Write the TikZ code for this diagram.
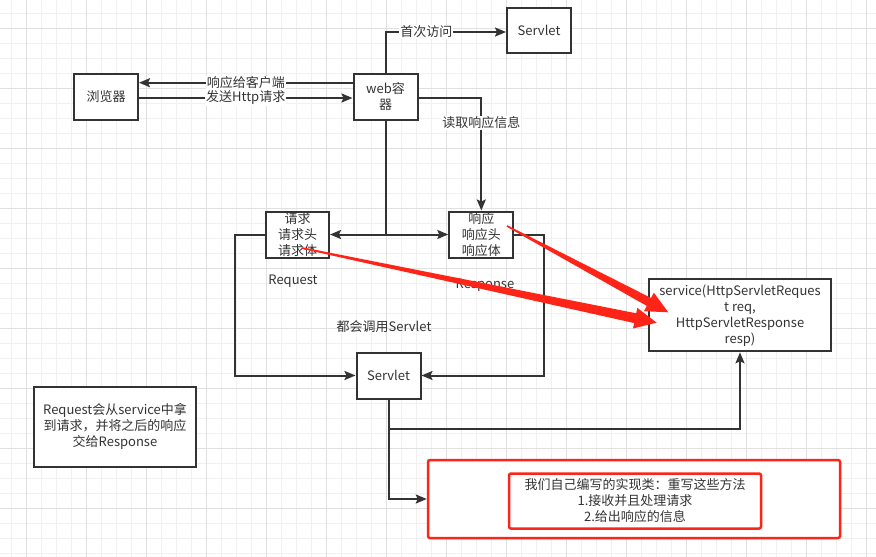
\documentclass[tikz,border=0pt]{standalone}
\usepackage{fontspec}
\setmainfont{Noto Sans CJK SC}
\usetikzlibrary{arrows.meta,calc}
\definecolor{ln}{HTML}{333333}
\definecolor{tx}{HTML}{333333}
\definecolor{rd}{HTML}{FF2418}
\definecolor{gmin}{HTML}{F0F0F0}
\definecolor{gmaj}{HTML}{E0E0E0}
\begin{document}
\begin{tikzpicture}[x=1pt,y=-1pt,
 box/.style={draw=ln,line width=2pt,fill=white,text=tx,font=\fontsize{13}{16}\selectfont,align=center,inner sep=0pt},
 redbox/.style={draw=rd,line width=2.5pt,fill=white,rounded corners=2pt,text=tx,font=\fontsize{13}{16}\selectfont,align=center,inner sep=0pt},
 conn/.style={draw=ln,line width=2pt,-{Stealth[length=11pt,width=9pt,inset=2pt]}},
 plain/.style={draw=ln,line width=2pt},
 lbl/.style={fill=white,text=tx,font=\fontsize{13}{14}\selectfont,inner sep=1pt},
 txt/.style={text=tx,font=\fontsize{13}{14}\selectfont,inner sep=0pt}]
\useasboundingbox (0,0) rectangle (876,557);
\fill[white] (0,0) rectangle (876,557);
% grid
\foreach \i in {0,...,57} {\pgfmathsetmacro\xx{11.7+15*\i}\draw[gmin,line width=0.8pt] (\xx,0) -- (\xx,557);}
\foreach \i in {0,...,36} {\pgfmathsetmacro\yy{13.3+15*\i}\draw[gmin,line width=0.8pt] (0,\yy) -- (876,\yy);}
\foreach \i in {0,...,14} {\pgfmathsetmacro\xx{26.7+60*\i}\draw[gmaj,line width=0.8pt] (\xx,0) -- (\xx,557);}
\foreach \i in {0,...,8} {\pgfmathsetmacro\yy{28.3+60*\i}\draw[gmaj,line width=0.8pt] (0,\yy) -- (876,\yy);}

% boxes
\node[box,minimum width=64pt,minimum height=46pt] (br) at (106,97) {浏览器};
\node[box,minimum width=64pt,minimum height=46pt] (web) at (385.5,97) {web容\\器};
\node[box,minimum width=64pt,minimum height=45pt] (sv1) at (539,30) {Servlet};
\node[box,minimum width=63pt,minimum height=46pt] (req) at (297.5,234.5) {请求\\请求头\\请求体};
\node[box,minimum width=64pt,minimum height=46pt] (resp) at (481.3,234.5) {响应\\响应头\\响应体};
\node[box,minimum width=64pt,minimum height=46pt] (sv2) at (388.5,375.5) {Servlet};
\node[box,minimum width=182pt,minimum height=72pt] (svc) at (740,315.3) {service(HttpServletReques\\t req,\\HttpServletResponse\\resp)};
\node[box,minimum width=162pt,minimum height=80pt] (note) at (115,426.7) {Request会从service中拿\\到请求，并将之后的响应\\交给Response};
\node[redbox,minimum width=412pt,minimum height=78pt] (ro) at (634,499) {};
\node[redbox,minimum width=252pt,minimum height=55pt] (ri) at (635,501) {我们自己编写的实现类：重写这些方法\\1.接收并且处理请求\\2.给出响应的信息};

% connectors
\draw[conn] ([yshift=14.3pt]web.west) -- node[lbl,midway]{响应给客户端} ([yshift=14.3pt]br.east);
\draw[conn] ([yshift=-1pt]br.east) -- node[lbl,midway]{发送Http请求} ([yshift=-1pt]web.west);
\draw[conn] (web.north) |- node[lbl,pos=0.67]{首次访问} ([yshift=-2pt]sv1.west);
\draw[conn] ([yshift=-1.3pt]web.east) -| node[lbl,pos=0.61]{读取响应信息} (resp.north);
\coordinate (jn) at (web.south |- req.east);
\draw[plain] (web.south) -- (jn);
\draw[conn] (jn) -- (req.east);
\draw[conn] (jn) -- (resp.west);
\draw[conn] (req.west) -- ++(-30,0) |- (sv2.west);
\draw[conn] (resp.east) -- ++(30,0) |- (sv2.east);
\draw[conn] (sv2.south) |- (ro.west);
\coordinate (sb) at (389,429);
\draw[conn] (sb) -| (svc.south);

% free labels
\node[txt] (reql) at (293,281) {Request};
\node[txt] (respl) at (485,285) {Response};
\node[txt] (calll) at (384,327) {都会调用Servlet};

% red tapered arrows
\coordinate (a1s) at (507,226); \coordinate (a1t) at (668.3,312.3);
\coordinate (a1b) at ($(a1t)!22pt!(a1s)$);
\fill[rd] ($(a1s)!0.8pt!90:(a1t)$) -- ($(a1b)!4.5pt!90:(a1t)$) -- ($(a1b)!10.5pt!90:(a1t)$) -- (a1t) -- ($(a1b)!10.5pt!-90:(a1t)$) -- ($(a1b)!4.5pt!-90:(a1t)$) -- ($(a1s)!0.8pt!-90:(a1t)$) -- cycle;
\coordinate (a2s) at (302,248); \coordinate (a2t) at (656.7,322.7);
\coordinate (a2b) at ($(a2t)!22pt!(a2s)$);
\fill[rd] ($(a2s)!0.8pt!90:(a2t)$) -- ($(a2b)!5pt!90:(a2t)$) -- ($(a2b)!10.5pt!90:(a2t)$) -- (a2t) -- ($(a2b)!10.5pt!-90:(a2t)$) -- ($(a2b)!5pt!-90:(a2t)$) -- ($(a2s)!0.8pt!-90:(a2t)$) -- cycle;
\end{tikzpicture}
\end{document}
